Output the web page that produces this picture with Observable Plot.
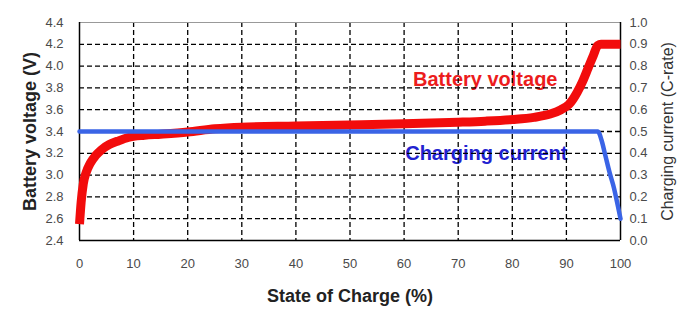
<!DOCTYPE html>
<html>
<head>
<meta charset="utf-8">
<script src="https://cdn.jsdelivr.net/npm/d3@7"></script>
<script src="https://cdn.jsdelivr.net/npm/@observablehq/plot@0.6"></script>
<style>
  html, body { margin: 0; padding: 0; background: #fff; }
  #chart svg { display: block; }
</style>
</head>
<body>
<div id="chart"></div>
<script>
// ---- data ----
const socVoltage = [0, 0.3, 0.7, 1.2, 2, 3, 4, 5.5, 7, 9, 12, 15, 20, 25, 30, 40, 50, 60, 70, 75, 80, 84, 87, 89, 90.5, 92, 93, 94, 95, 95.8, 96.4, 100];
const voltage    = [2.55, 2.75, 2.92, 3.02, 3.11, 3.18, 3.23, 3.28, 3.31, 3.345, 3.365, 3.375, 3.395, 3.425, 3.44, 3.45, 3.46, 3.47, 3.485, 3.495, 3.51, 3.53, 3.56, 3.6, 3.65, 3.76, 3.86, 3.98, 4.1, 4.19, 4.2, 4.2];
const socCurrent = [0, 95.8, 96.5, 97.2, 98, 98.8, 99.5, 100];
const current    = [0.5, 0.5, 0.46, 0.39, 0.31, 0.24, 0.16, 0.1];
const xTicks = [0, 10, 20, 30, 40, 50, 60, 70, 80, 90, 100];
const vTicks = [2.4, 2.6, 2.8, 3.0, 3.2, 3.4, 3.6, 3.8, 4.0, 4.2, 4.4];
const cTicks = [0.0, 0.1, 0.2, 0.3, 0.4, 0.5, 0.6, 0.7, 0.8, 0.9, 1.0];
const labels = {x: "State of Charge (%)", yLeft: "Battery voltage (V)", yRight: "Charging current (C-rate)"};
const annotations = [
  {soc: 75, v: 3.88, text: "Battery voltage", color: "#ec1c1c"},
  {soc: 75.2, v: 3.2, text: "Charging current", color: "#2222d0"}
];

// current axis shares the voltage scale: 0..1 C  <->  2.4..4.4 V
const cToV = c => 2.4 + 2 * c;
const vToC = v => (v - 2.4) / 2;

const vData = socVoltage.map((s, i) => ({soc: s, v: voltage[i]}));
const cData = socCurrent.map((s, i) => ({soc: s, v: cToV(current[i])}));

const chart = Plot.plot({
  width: 697,
  height: 311,
  marginLeft: 79,
  marginRight: 77,
  marginTop: 22,
  marginBottom: 71,
  style: {fontFamily: "'Liberation Sans', Arial, sans-serif", fontSize: "13px", color: "#4a4a4a", background: "#fff"},
  x: {domain: [0, 100]},
  y: {domain: [2.4, 4.4]},
  marks: [
    Plot.text(annotations, {x: "soc", y: "v", text: "text", fill: "color", fontSize: 20, fontWeight: "bold", textAnchor: "middle", lineAnchor: "middle"}),
    Plot.gridY(vTicks.slice(1, -1), {stroke: "#000", strokeOpacity: 1, strokeWidth: 1.3, strokeDasharray: "5,3"}),
    Plot.gridX(xTicks.slice(1, -1), {stroke: "#000", strokeOpacity: 1, strokeWidth: 1.3, strokeDasharray: "5,3"}),
    Plot.ruleY([4.4], {stroke: "#999", strokeWidth: 1.2}),
    Plot.ruleY([2.4], {stroke: "#000", strokeWidth: 1.5}),
    Plot.ruleX([0, 100], {stroke: "#000", strokeWidth: 1.5}),
    Plot.line(vData, {x: "soc", y: "v", stroke: "#f20c0c", strokeWidth: 9, curve: "monotone-x", strokeLinecap: "butt", strokeLinejoin: "round"}),
    Plot.line(cData, {x: "soc", y: "v", stroke: "#3a64e6", strokeWidth: 4.5, curve: "monotone-x"}),
    Plot.axisX(xTicks, {tickSize: 0, tickPadding: 18, label: null, fontSize: 13}),
    Plot.axisY(vTicks, {anchor: "left", tickSize: 0, tickPadding: 16, label: null, tickFormat: d => d.toFixed(1), fontSize: 13}),
    Plot.axisY(cTicks.map(cToV), {anchor: "right", tickSize: 0, tickPadding: 9, label: null, tickFormat: d => vToC(d).toFixed(1), fontSize: 13}),
    Plot.text([labels.yLeft], {frameAnchor: "left", dx: -49, rotate: -90, text: d => d, fontSize: 18, fontWeight: "bold", fill: "#222", textAnchor: "middle", lineAnchor: "middle"}),
    Plot.text([labels.yRight], {frameAnchor: "right", dx: 47, rotate: -90, text: d => d, fontSize: 16, fill: "#333", textAnchor: "middle", lineAnchor: "middle"}),
    Plot.text([labels.x], {frameAnchor: "bottom", dy: 56, text: d => d, fontSize: 18, fontWeight: "bold", fill: "#222", textAnchor: "middle", lineAnchor: "middle"})
  ]
});
document.getElementById("chart").appendChild(chart);
</script>
</body>
</html>
